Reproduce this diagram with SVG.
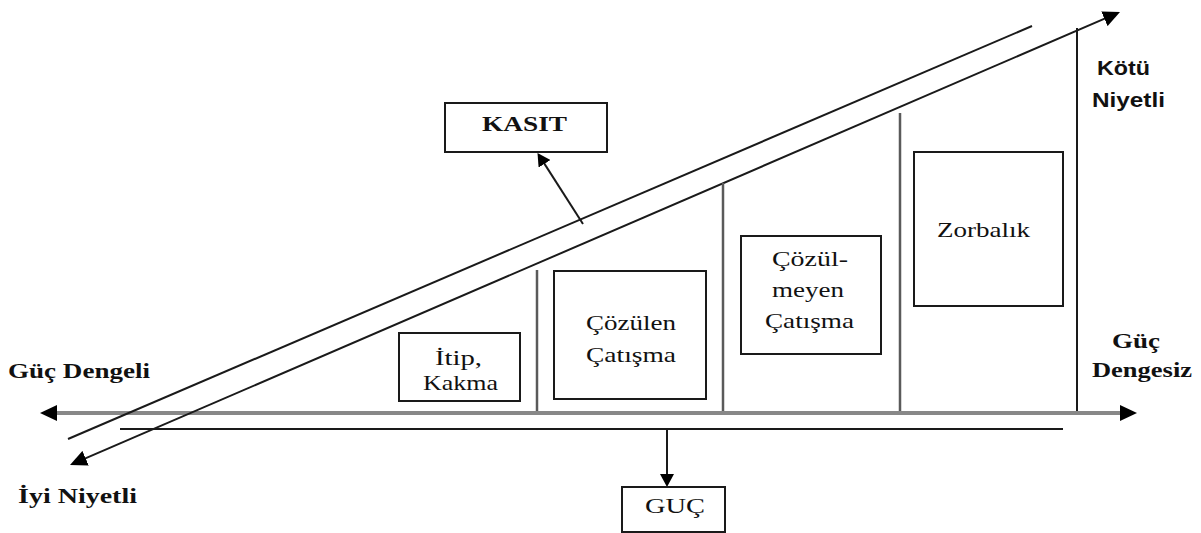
<svg xmlns="http://www.w3.org/2000/svg" width="1201" height="533" viewBox="0 0 1201 533">
<style>
.box{fill:#fff;stroke:#1a1a1a;stroke-width:2}
.t{font-size:21px;fill:#111}
.tb{font-size:22px;font-weight:bold;fill:#111}
.ts{font-size:20px;font-weight:bold;fill:#111}
.diag{stroke:#1a1a1a;stroke-width:2;fill:none}
.axis{stroke:#888;stroke-width:4;fill:none}
.div{stroke:#5a5a5a;stroke-width:2.5;fill:none}
</style>
<defs>
<marker id="big" viewBox="0 0 17 16" refX="11" refY="8" markerWidth="17" markerHeight="16" markerUnits="userSpaceOnUse" orient="auto-start-reverse">
<path d="M0,0 L17,8 L0,16 z" fill="#000"/>
</marker>
<marker id="small" viewBox="0 0 13 14" refX="8" refY="7" markerWidth="13" markerHeight="14" markerUnits="userSpaceOnUse" orient="auto-start-reverse">
<path d="M0,0 L13,7 L0,14 z" fill="#000"/>
</marker>
</defs>
<g id="connectors">
<line class="axis" x1="46" y1="413" x2="1131" y2="413" marker-start="url(#big)" marker-end="url(#big)"/>
<line class="diag" x1="120" y1="429" x2="1063" y2="429"/>
<line class="diag" x1="68" y1="439" x2="1032" y2="26"/>
<line class="diag" x1="75.5" y1="462.6" x2="1114.5" y2="14.4" marker-start="url(#big)" marker-end="url(#big)"/>
<line class="div" x1="537" y1="270" x2="537" y2="411"/>
<line class="div" x1="723" y1="183" x2="723" y2="411"/>
<line class="div" x1="900" y1="113" x2="900" y2="411"/>
<line class="diag" x1="1077" y1="28" x2="1077" y2="411"/>
<line class="diag" x1="583" y1="224" x2="540.2" y2="157.1" marker-end="url(#small)"/>
<line class="diag" x1="667" y1="429" x2="667" y2="482" marker-end="url(#small)"/>
</g>
<g id="kasit" font-family="Liberation Serif, serif">
<rect class="box" x="445" y="103" width="162" height="49"/>
<text class="tb" x="482" y="131" textLength="85" lengthAdjust="spacingAndGlyphs">KASIT</text>
</g>
<g id="kotu-niyetli" font-family="Liberation Sans, sans-serif">
<text class="ts" x="1097" y="75" textLength="53" lengthAdjust="spacingAndGlyphs">Kötü</text>
<text class="ts" x="1092" y="107" textLength="73" lengthAdjust="spacingAndGlyphs">Niyetli</text>
</g>
<g id="guc-dengeli" font-family="Liberation Serif, serif">
<text class="tb" x="8" y="378" textLength="142" lengthAdjust="spacingAndGlyphs">Güç Dengeli</text>
</g>
<g id="iyi-niyetli" font-family="Liberation Serif, serif">
<text class="tb" x="18" y="503" textLength="119" lengthAdjust="spacingAndGlyphs">İyi Niyetli</text>
</g>
<g id="guc-dengesiz" font-family="Liberation Serif, serif">
<text class="tb" x="1112" y="348" textLength="48" lengthAdjust="spacingAndGlyphs">Güç</text>
<text class="tb" x="1092" y="377" textLength="100" lengthAdjust="spacingAndGlyphs">Dengesiz</text>
</g>
<g id="itip-kakma" font-family="Liberation Serif, serif">
<rect class="box" x="399" y="333" width="121" height="68"/>
<text class="t" x="435" y="365" textLength="47" lengthAdjust="spacingAndGlyphs">İtip,</text>
<text class="t" x="423" y="390" textLength="75" lengthAdjust="spacingAndGlyphs">Kakma</text>
</g>
<g id="cozulen-catisma" font-family="Liberation Serif, serif">
<rect class="box" x="554" y="271" width="152" height="128"/>
<text class="t" x="586" y="330" textLength="90" lengthAdjust="spacingAndGlyphs">Çözülen</text>
<text class="t" x="586" y="362" textLength="90" lengthAdjust="spacingAndGlyphs">Çatışma</text>
</g>
<g id="cozulmeyen-catisma" font-family="Liberation Serif, serif">
<rect class="box" x="741" y="236" width="140" height="118"/>
<text class="t" x="772" y="266" textLength="76" lengthAdjust="spacingAndGlyphs">Çözül-</text>
<text class="t" x="772" y="297" textLength="72" lengthAdjust="spacingAndGlyphs">meyen</text>
<text class="t" x="765" y="328" textLength="89" lengthAdjust="spacingAndGlyphs">Çatışma</text>
</g>
<g id="zorbalik" font-family="Liberation Serif, serif">
<rect class="box" x="914" y="152" width="149" height="154"/>
<text class="t" x="937" y="237" textLength="93" lengthAdjust="spacingAndGlyphs">Zorbalık</text>
</g>
<g id="guc" font-family="Liberation Serif, serif">
<rect class="box" x="622" y="487" width="103" height="45"/>
<text class="t" x="645" y="513" textLength="60" lengthAdjust="spacingAndGlyphs">GUÇ</text>
</g>
</svg>
